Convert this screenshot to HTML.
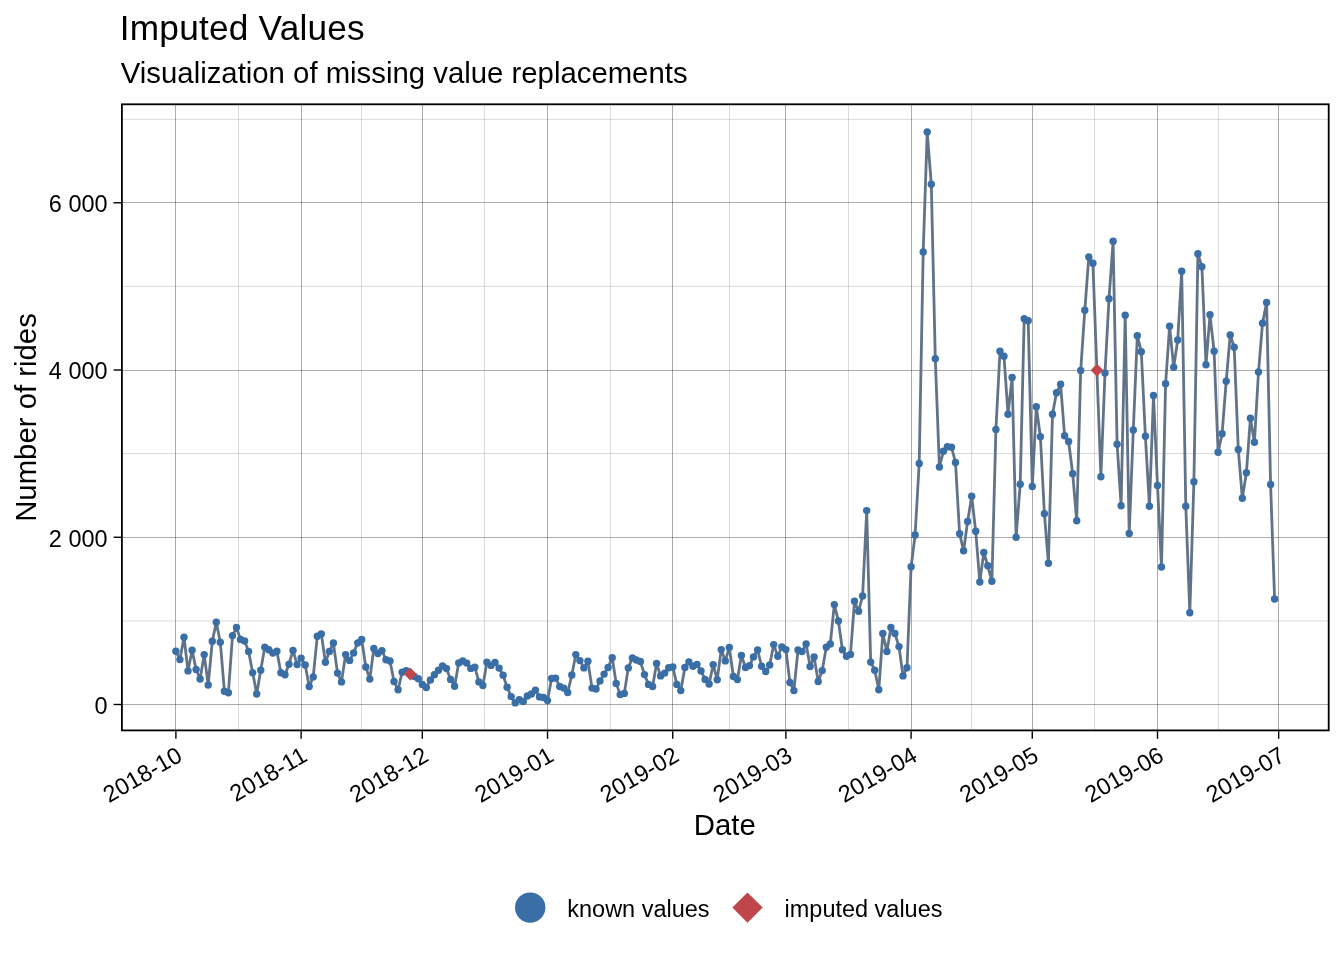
<!DOCTYPE html>
<html lang="en"><head><meta charset="utf-8"><title>Imputed Values</title>
<style>html,body{margin:0;padding:0;background:#fff}svg{display:block}text{font-family:"Liberation Sans", Arial, Helvetica, sans-serif;fill:#000}</style></head><body>
<svg width="1344" height="960" viewBox="0 0 1344 960">
<rect width="1344" height="960" fill="#fff"/>
<style>.mi{stroke:#000;stroke-opacity:.14;stroke-width:1}.ma{stroke:#000;stroke-opacity:.33;stroke-width:1}</style>
<g><line x1="121.9" x2="1328.8" y1="621.00" y2="621.00" class="mi"/><line x1="121.9" x2="1328.8" y1="453.50" y2="453.50" class="mi"/><line x1="121.9" x2="1328.8" y1="286.40" y2="286.40" class="mi"/><line x1="121.9" x2="1328.8" y1="119.40" y2="119.40" class="mi"/><line x1="238.50" x2="238.50" y1="104.3" y2="730.4" class="mi"/><line x1="361.50" x2="361.50" y1="104.3" y2="730.4" class="mi"/><line x1="484.50" x2="484.50" y1="104.3" y2="730.4" class="mi"/><line x1="610.50" x2="610.50" y1="104.3" y2="730.4" class="mi"/><line x1="729.50" x2="729.50" y1="104.3" y2="730.4" class="mi"/><line x1="848.50" x2="848.50" y1="104.3" y2="730.4" class="mi"/><line x1="971.50" x2="971.50" y1="104.3" y2="730.4" class="mi"/><line x1="1094.50" x2="1094.50" y1="104.3" y2="730.4" class="mi"/><line x1="1218.50" x2="1218.50" y1="104.3" y2="730.4" class="mi"/><line x1="121.9" x2="1328.8" y1="704.50" y2="704.50" class="ma"/><line x1="121.9" x2="1328.8" y1="537.50" y2="537.50" class="ma"/><line x1="121.9" x2="1328.8" y1="370.50" y2="370.50" class="ma"/><line x1="121.9" x2="1328.8" y1="202.50" y2="202.50" class="ma"/><line x1="175.50" x2="175.50" y1="104.3" y2="730.4" class="ma"/><line x1="301.50" x2="301.50" y1="104.3" y2="730.4" class="ma"/><line x1="422.50" x2="422.50" y1="104.3" y2="730.4" class="ma"/><line x1="547.50" x2="547.50" y1="104.3" y2="730.4" class="ma"/><line x1="672.50" x2="672.50" y1="104.3" y2="730.4" class="ma"/><line x1="785.50" x2="785.50" y1="104.3" y2="730.4" class="ma"/><line x1="911.50" x2="911.50" y1="104.3" y2="730.4" class="ma"/><line x1="1032.50" x2="1032.50" y1="104.3" y2="730.4" class="ma"/><line x1="1157.50" x2="1157.50" y1="104.3" y2="730.4" class="ma"/><line x1="1278.50" x2="1278.50" y1="104.3" y2="730.4" class="ma"/></g>
<polyline points="175.9,651.2 179.9,659.6 184.0,637.2 188.0,670.9 192.1,650.2 196.1,669.5 200.1,679.0 204.2,654.6 208.2,685.0 212.3,641.2 216.3,622.2 220.3,642.2 224.4,691.2 228.4,692.8 232.5,635.6 236.5,627.5 240.5,639.4 244.6,641.0 248.6,651.5 252.7,672.8 256.7,694.0 260.7,670.2 264.8,647.2 268.8,649.8 272.8,653.1 276.9,651.2 280.9,672.8 285.0,674.8 289.0,664.2 293.0,650.4 297.1,664.6 301.1,658.1 305.2,665.0 309.2,686.5 313.2,676.9 317.3,636.2 321.3,633.9 325.4,662.2 329.4,651.4 333.4,643.0 337.5,673.1 341.5,681.9 345.6,654.6 349.6,660.4 353.6,652.9 357.7,642.9 361.7,639.5 365.8,667.0 369.8,679.1 373.8,648.5 377.9,653.5 381.9,650.6 386.0,659.8 390.0,661.0 394.0,681.5 398.1,689.8 402.1,672.2 406.2,670.6 410.2,674.0 414.2,676.5 418.3,678.8 422.3,684.4 426.3,687.5 430.4,680.0 434.4,674.8 438.5,670.2 442.5,666.0 446.5,668.5 450.6,679.4 454.6,686.2 458.7,662.9 462.7,661.0 466.7,663.1 470.8,668.4 474.8,667.2 478.9,681.9 482.9,685.5 486.9,662.2 491.0,665.4 495.0,662.5 499.1,668.1 503.1,675.2 507.1,687.2 511.2,696.6 515.2,702.9 519.3,699.8 523.3,701.6 527.3,696.0 531.4,694.0 535.4,690.2 539.5,696.9 543.5,697.5 547.5,700.6 551.6,678.5 555.6,678.1 559.7,686.5 563.7,688.1 567.7,692.5 571.8,675.0 575.8,654.6 579.9,660.6 583.9,667.9 587.9,661.2 592.0,688.1 596.0,689.0 600.0,680.9 604.1,674.1 608.1,667.5 612.2,657.8 616.2,683.4 620.2,694.6 624.3,693.4 628.3,667.9 632.4,657.9 636.4,660.0 640.4,661.5 644.5,674.6 648.5,684.4 652.6,686.5 656.6,663.5 660.6,675.9 664.7,673.1 668.7,667.8 672.8,666.9 676.8,684.4 680.8,690.6 684.9,667.5 688.9,661.9 693.0,666.2 697.0,664.4 701.0,670.9 705.1,679.4 709.1,684.0 713.2,664.6 717.2,679.8 721.2,649.6 725.3,660.9 729.3,647.5 733.4,676.5 737.4,679.6 741.4,655.4 745.5,667.5 749.5,665.6 753.5,656.9 757.6,650.0 761.6,666.2 765.7,671.5 769.7,665.0 773.7,644.6 777.8,656.2 781.8,646.9 785.9,649.6 789.9,682.5 793.9,690.6 798.0,650.0 802.0,651.6 806.1,644.0 810.1,666.5 814.1,656.9 818.2,681.5 822.2,670.6 826.3,647.2 830.3,644.0 834.3,604.6 838.4,621.0 842.4,649.8 846.5,656.2 850.5,654.4 854.5,601.2 858.6,611.2 862.6,596.0 866.7,510.6 870.7,662.1 874.7,670.2 878.8,689.8 882.8,633.5 886.9,651.5 890.9,627.5 894.9,633.5 899.0,646.6 903.0,675.9 907.0,667.8 911.1,566.7 915.1,535.0 919.2,463.5 923.2,252.0 927.2,132.0 931.3,184.2 935.3,358.7 939.4,467.0 943.4,451.3 947.4,446.7 951.5,447.2 955.5,462.5 959.6,533.7 963.6,550.8 967.6,521.5 971.7,496.2 975.7,531.3 979.8,582.0 983.8,552.5 987.8,565.8 991.9,581.3 995.9,429.5 1000.0,351.3 1004.0,356.2 1008.0,414.2 1012.1,377.5 1016.1,537.2 1020.2,484.3 1024.2,318.7 1028.2,320.8 1032.3,486.5 1036.3,406.7 1040.4,436.7 1044.4,513.7 1048.4,563.2 1052.5,414.2 1056.5,392.8 1060.6,384.2 1064.6,435.8 1068.6,441.5 1072.7,473.8 1076.7,520.8 1080.7,370.5 1084.8,310.3 1088.8,257.0 1092.9,263.3 1096.9,370.2 1100.9,476.8 1105.0,373.0 1109.0,298.7 1113.1,241.3 1117.1,444.2 1121.1,505.8 1125.2,315.2 1129.2,533.5 1133.3,430.0 1137.3,335.8 1141.3,351.7 1145.4,436.2 1149.4,506.2 1153.5,395.5 1157.5,485.5 1161.5,567.0 1165.6,383.8 1169.6,326.3 1173.7,367.3 1177.7,340.0 1181.7,271.2 1185.8,506.3 1189.8,612.8 1193.9,481.8 1197.9,253.8 1201.9,266.7 1206.0,364.8 1210.0,314.8 1214.1,351.2 1218.1,452.2 1222.1,433.7 1226.2,381.3 1230.2,335.0 1234.2,347.2 1238.3,449.5 1242.3,498.3 1246.4,472.7 1250.4,418.3 1254.4,442.3 1258.5,372.0 1262.5,323.2 1266.6,302.5 1270.6,484.5 1274.6,599.0" fill="none" stroke="#617388" stroke-width="2.8" stroke-linejoin="round" stroke-linecap="butt"/>
<g fill="#396EA6"><circle cx="175.9" cy="651.2" r="3.7"/><circle cx="179.9" cy="659.6" r="3.7"/><circle cx="184.0" cy="637.2" r="3.7"/><circle cx="188.0" cy="670.9" r="3.7"/><circle cx="192.1" cy="650.2" r="3.7"/><circle cx="196.1" cy="669.5" r="3.7"/><circle cx="200.1" cy="679.0" r="3.7"/><circle cx="204.2" cy="654.6" r="3.7"/><circle cx="208.2" cy="685.0" r="3.7"/><circle cx="212.3" cy="641.2" r="3.7"/><circle cx="216.3" cy="622.2" r="3.7"/><circle cx="220.3" cy="642.2" r="3.7"/><circle cx="224.4" cy="691.2" r="3.7"/><circle cx="228.4" cy="692.8" r="3.7"/><circle cx="232.5" cy="635.6" r="3.7"/><circle cx="236.5" cy="627.5" r="3.7"/><circle cx="240.5" cy="639.4" r="3.7"/><circle cx="244.6" cy="641.0" r="3.7"/><circle cx="248.6" cy="651.5" r="3.7"/><circle cx="252.7" cy="672.8" r="3.7"/><circle cx="256.7" cy="694.0" r="3.7"/><circle cx="260.7" cy="670.2" r="3.7"/><circle cx="264.8" cy="647.2" r="3.7"/><circle cx="268.8" cy="649.8" r="3.7"/><circle cx="272.8" cy="653.1" r="3.7"/><circle cx="276.9" cy="651.2" r="3.7"/><circle cx="280.9" cy="672.8" r="3.7"/><circle cx="285.0" cy="674.8" r="3.7"/><circle cx="289.0" cy="664.2" r="3.7"/><circle cx="293.0" cy="650.4" r="3.7"/><circle cx="297.1" cy="664.6" r="3.7"/><circle cx="301.1" cy="658.1" r="3.7"/><circle cx="305.2" cy="665.0" r="3.7"/><circle cx="309.2" cy="686.5" r="3.7"/><circle cx="313.2" cy="676.9" r="3.7"/><circle cx="317.3" cy="636.2" r="3.7"/><circle cx="321.3" cy="633.9" r="3.7"/><circle cx="325.4" cy="662.2" r="3.7"/><circle cx="329.4" cy="651.4" r="3.7"/><circle cx="333.4" cy="643.0" r="3.7"/><circle cx="337.5" cy="673.1" r="3.7"/><circle cx="341.5" cy="681.9" r="3.7"/><circle cx="345.6" cy="654.6" r="3.7"/><circle cx="349.6" cy="660.4" r="3.7"/><circle cx="353.6" cy="652.9" r="3.7"/><circle cx="357.7" cy="642.9" r="3.7"/><circle cx="361.7" cy="639.5" r="3.7"/><circle cx="365.8" cy="667.0" r="3.7"/><circle cx="369.8" cy="679.1" r="3.7"/><circle cx="373.8" cy="648.5" r="3.7"/><circle cx="377.9" cy="653.5" r="3.7"/><circle cx="381.9" cy="650.6" r="3.7"/><circle cx="386.0" cy="659.8" r="3.7"/><circle cx="390.0" cy="661.0" r="3.7"/><circle cx="394.0" cy="681.5" r="3.7"/><circle cx="398.1" cy="689.8" r="3.7"/><circle cx="402.1" cy="672.2" r="3.7"/><circle cx="406.2" cy="670.6" r="3.7"/><circle cx="414.2" cy="676.5" r="3.7"/><circle cx="418.3" cy="678.8" r="3.7"/><circle cx="422.3" cy="684.4" r="3.7"/><circle cx="426.3" cy="687.5" r="3.7"/><circle cx="430.4" cy="680.0" r="3.7"/><circle cx="434.4" cy="674.8" r="3.7"/><circle cx="438.5" cy="670.2" r="3.7"/><circle cx="442.5" cy="666.0" r="3.7"/><circle cx="446.5" cy="668.5" r="3.7"/><circle cx="450.6" cy="679.4" r="3.7"/><circle cx="454.6" cy="686.2" r="3.7"/><circle cx="458.7" cy="662.9" r="3.7"/><circle cx="462.7" cy="661.0" r="3.7"/><circle cx="466.7" cy="663.1" r="3.7"/><circle cx="470.8" cy="668.4" r="3.7"/><circle cx="474.8" cy="667.2" r="3.7"/><circle cx="478.9" cy="681.9" r="3.7"/><circle cx="482.9" cy="685.5" r="3.7"/><circle cx="486.9" cy="662.2" r="3.7"/><circle cx="491.0" cy="665.4" r="3.7"/><circle cx="495.0" cy="662.5" r="3.7"/><circle cx="499.1" cy="668.1" r="3.7"/><circle cx="503.1" cy="675.2" r="3.7"/><circle cx="507.1" cy="687.2" r="3.7"/><circle cx="511.2" cy="696.6" r="3.7"/><circle cx="515.2" cy="702.9" r="3.7"/><circle cx="519.3" cy="699.8" r="3.7"/><circle cx="523.3" cy="701.6" r="3.7"/><circle cx="527.3" cy="696.0" r="3.7"/><circle cx="531.4" cy="694.0" r="3.7"/><circle cx="535.4" cy="690.2" r="3.7"/><circle cx="539.5" cy="696.9" r="3.7"/><circle cx="543.5" cy="697.5" r="3.7"/><circle cx="547.5" cy="700.6" r="3.7"/><circle cx="551.6" cy="678.5" r="3.7"/><circle cx="555.6" cy="678.1" r="3.7"/><circle cx="559.7" cy="686.5" r="3.7"/><circle cx="563.7" cy="688.1" r="3.7"/><circle cx="567.7" cy="692.5" r="3.7"/><circle cx="571.8" cy="675.0" r="3.7"/><circle cx="575.8" cy="654.6" r="3.7"/><circle cx="579.9" cy="660.6" r="3.7"/><circle cx="583.9" cy="667.9" r="3.7"/><circle cx="587.9" cy="661.2" r="3.7"/><circle cx="592.0" cy="688.1" r="3.7"/><circle cx="596.0" cy="689.0" r="3.7"/><circle cx="600.0" cy="680.9" r="3.7"/><circle cx="604.1" cy="674.1" r="3.7"/><circle cx="608.1" cy="667.5" r="3.7"/><circle cx="612.2" cy="657.8" r="3.7"/><circle cx="616.2" cy="683.4" r="3.7"/><circle cx="620.2" cy="694.6" r="3.7"/><circle cx="624.3" cy="693.4" r="3.7"/><circle cx="628.3" cy="667.9" r="3.7"/><circle cx="632.4" cy="657.9" r="3.7"/><circle cx="636.4" cy="660.0" r="3.7"/><circle cx="640.4" cy="661.5" r="3.7"/><circle cx="644.5" cy="674.6" r="3.7"/><circle cx="648.5" cy="684.4" r="3.7"/><circle cx="652.6" cy="686.5" r="3.7"/><circle cx="656.6" cy="663.5" r="3.7"/><circle cx="660.6" cy="675.9" r="3.7"/><circle cx="664.7" cy="673.1" r="3.7"/><circle cx="668.7" cy="667.8" r="3.7"/><circle cx="672.8" cy="666.9" r="3.7"/><circle cx="676.8" cy="684.4" r="3.7"/><circle cx="680.8" cy="690.6" r="3.7"/><circle cx="684.9" cy="667.5" r="3.7"/><circle cx="688.9" cy="661.9" r="3.7"/><circle cx="693.0" cy="666.2" r="3.7"/><circle cx="697.0" cy="664.4" r="3.7"/><circle cx="701.0" cy="670.9" r="3.7"/><circle cx="705.1" cy="679.4" r="3.7"/><circle cx="709.1" cy="684.0" r="3.7"/><circle cx="713.2" cy="664.6" r="3.7"/><circle cx="717.2" cy="679.8" r="3.7"/><circle cx="721.2" cy="649.6" r="3.7"/><circle cx="725.3" cy="660.9" r="3.7"/><circle cx="729.3" cy="647.5" r="3.7"/><circle cx="733.4" cy="676.5" r="3.7"/><circle cx="737.4" cy="679.6" r="3.7"/><circle cx="741.4" cy="655.4" r="3.7"/><circle cx="745.5" cy="667.5" r="3.7"/><circle cx="749.5" cy="665.6" r="3.7"/><circle cx="753.5" cy="656.9" r="3.7"/><circle cx="757.6" cy="650.0" r="3.7"/><circle cx="761.6" cy="666.2" r="3.7"/><circle cx="765.7" cy="671.5" r="3.7"/><circle cx="769.7" cy="665.0" r="3.7"/><circle cx="773.7" cy="644.6" r="3.7"/><circle cx="777.8" cy="656.2" r="3.7"/><circle cx="781.8" cy="646.9" r="3.7"/><circle cx="785.9" cy="649.6" r="3.7"/><circle cx="789.9" cy="682.5" r="3.7"/><circle cx="793.9" cy="690.6" r="3.7"/><circle cx="798.0" cy="650.0" r="3.7"/><circle cx="802.0" cy="651.6" r="3.7"/><circle cx="806.1" cy="644.0" r="3.7"/><circle cx="810.1" cy="666.5" r="3.7"/><circle cx="814.1" cy="656.9" r="3.7"/><circle cx="818.2" cy="681.5" r="3.7"/><circle cx="822.2" cy="670.6" r="3.7"/><circle cx="826.3" cy="647.2" r="3.7"/><circle cx="830.3" cy="644.0" r="3.7"/><circle cx="834.3" cy="604.6" r="3.7"/><circle cx="838.4" cy="621.0" r="3.7"/><circle cx="842.4" cy="649.8" r="3.7"/><circle cx="846.5" cy="656.2" r="3.7"/><circle cx="850.5" cy="654.4" r="3.7"/><circle cx="854.5" cy="601.2" r="3.7"/><circle cx="858.6" cy="611.2" r="3.7"/><circle cx="862.6" cy="596.0" r="3.7"/><circle cx="866.7" cy="510.6" r="3.7"/><circle cx="870.7" cy="662.1" r="3.7"/><circle cx="874.7" cy="670.2" r="3.7"/><circle cx="878.8" cy="689.8" r="3.7"/><circle cx="882.8" cy="633.5" r="3.7"/><circle cx="886.9" cy="651.5" r="3.7"/><circle cx="890.9" cy="627.5" r="3.7"/><circle cx="894.9" cy="633.5" r="3.7"/><circle cx="899.0" cy="646.6" r="3.7"/><circle cx="903.0" cy="675.9" r="3.7"/><circle cx="907.0" cy="667.8" r="3.7"/><circle cx="911.1" cy="566.7" r="3.7"/><circle cx="915.1" cy="535.0" r="3.7"/><circle cx="919.2" cy="463.5" r="3.7"/><circle cx="923.2" cy="252.0" r="3.7"/><circle cx="927.2" cy="132.0" r="3.7"/><circle cx="931.3" cy="184.2" r="3.7"/><circle cx="935.3" cy="358.7" r="3.7"/><circle cx="939.4" cy="467.0" r="3.7"/><circle cx="943.4" cy="451.3" r="3.7"/><circle cx="947.4" cy="446.7" r="3.7"/><circle cx="951.5" cy="447.2" r="3.7"/><circle cx="955.5" cy="462.5" r="3.7"/><circle cx="959.6" cy="533.7" r="3.7"/><circle cx="963.6" cy="550.8" r="3.7"/><circle cx="967.6" cy="521.5" r="3.7"/><circle cx="971.7" cy="496.2" r="3.7"/><circle cx="975.7" cy="531.3" r="3.7"/><circle cx="979.8" cy="582.0" r="3.7"/><circle cx="983.8" cy="552.5" r="3.7"/><circle cx="987.8" cy="565.8" r="3.7"/><circle cx="991.9" cy="581.3" r="3.7"/><circle cx="995.9" cy="429.5" r="3.7"/><circle cx="1000.0" cy="351.3" r="3.7"/><circle cx="1004.0" cy="356.2" r="3.7"/><circle cx="1008.0" cy="414.2" r="3.7"/><circle cx="1012.1" cy="377.5" r="3.7"/><circle cx="1016.1" cy="537.2" r="3.7"/><circle cx="1020.2" cy="484.3" r="3.7"/><circle cx="1024.2" cy="318.7" r="3.7"/><circle cx="1028.2" cy="320.8" r="3.7"/><circle cx="1032.3" cy="486.5" r="3.7"/><circle cx="1036.3" cy="406.7" r="3.7"/><circle cx="1040.4" cy="436.7" r="3.7"/><circle cx="1044.4" cy="513.7" r="3.7"/><circle cx="1048.4" cy="563.2" r="3.7"/><circle cx="1052.5" cy="414.2" r="3.7"/><circle cx="1056.5" cy="392.8" r="3.7"/><circle cx="1060.6" cy="384.2" r="3.7"/><circle cx="1064.6" cy="435.8" r="3.7"/><circle cx="1068.6" cy="441.5" r="3.7"/><circle cx="1072.7" cy="473.8" r="3.7"/><circle cx="1076.7" cy="520.8" r="3.7"/><circle cx="1080.7" cy="370.5" r="3.7"/><circle cx="1084.8" cy="310.3" r="3.7"/><circle cx="1088.8" cy="257.0" r="3.7"/><circle cx="1092.9" cy="263.3" r="3.7"/><circle cx="1100.9" cy="476.8" r="3.7"/><circle cx="1105.0" cy="373.0" r="3.7"/><circle cx="1109.0" cy="298.7" r="3.7"/><circle cx="1113.1" cy="241.3" r="3.7"/><circle cx="1117.1" cy="444.2" r="3.7"/><circle cx="1121.1" cy="505.8" r="3.7"/><circle cx="1125.2" cy="315.2" r="3.7"/><circle cx="1129.2" cy="533.5" r="3.7"/><circle cx="1133.3" cy="430.0" r="3.7"/><circle cx="1137.3" cy="335.8" r="3.7"/><circle cx="1141.3" cy="351.7" r="3.7"/><circle cx="1145.4" cy="436.2" r="3.7"/><circle cx="1149.4" cy="506.2" r="3.7"/><circle cx="1153.5" cy="395.5" r="3.7"/><circle cx="1157.5" cy="485.5" r="3.7"/><circle cx="1161.5" cy="567.0" r="3.7"/><circle cx="1165.6" cy="383.8" r="3.7"/><circle cx="1169.6" cy="326.3" r="3.7"/><circle cx="1173.7" cy="367.3" r="3.7"/><circle cx="1177.7" cy="340.0" r="3.7"/><circle cx="1181.7" cy="271.2" r="3.7"/><circle cx="1185.8" cy="506.3" r="3.7"/><circle cx="1189.8" cy="612.8" r="3.7"/><circle cx="1193.9" cy="481.8" r="3.7"/><circle cx="1197.9" cy="253.8" r="3.7"/><circle cx="1201.9" cy="266.7" r="3.7"/><circle cx="1206.0" cy="364.8" r="3.7"/><circle cx="1210.0" cy="314.8" r="3.7"/><circle cx="1214.1" cy="351.2" r="3.7"/><circle cx="1218.1" cy="452.2" r="3.7"/><circle cx="1222.1" cy="433.7" r="3.7"/><circle cx="1226.2" cy="381.3" r="3.7"/><circle cx="1230.2" cy="335.0" r="3.7"/><circle cx="1234.2" cy="347.2" r="3.7"/><circle cx="1238.3" cy="449.5" r="3.7"/><circle cx="1242.3" cy="498.3" r="3.7"/><circle cx="1246.4" cy="472.7" r="3.7"/><circle cx="1250.4" cy="418.3" r="3.7"/><circle cx="1254.4" cy="442.3" r="3.7"/><circle cx="1258.5" cy="372.0" r="3.7"/><circle cx="1262.5" cy="323.2" r="3.7"/><circle cx="1266.6" cy="302.5" r="3.7"/><circle cx="1270.6" cy="484.5" r="3.7"/><circle cx="1274.6" cy="599.0" r="3.7"/></g>
<polygon points="403.8,674.0 410.2,667.6 416.6,674.0 410.2,680.4" fill="#C1464B"/>
<polygon points="1090.5,370.2 1096.9,363.8 1103.3,370.2 1096.9,376.6" fill="#C1464B"/>
<rect x="121.9" y="104.3" width="1206.8" height="626.1" fill="none" stroke="#000" stroke-width="1.8"/>
<g stroke="#000" stroke-width="1.4"><line x1="175.90" x2="175.90" y1="731.2" y2="738.8"/><line x1="301.12" x2="301.12" y1="731.2" y2="738.8"/><line x1="422.31" x2="422.31" y1="731.2" y2="738.8"/><line x1="547.53" x2="547.53" y1="731.2" y2="738.8"/><line x1="672.76" x2="672.76" y1="731.2" y2="738.8"/><line x1="785.86" x2="785.86" y1="731.2" y2="738.8"/><line x1="911.09" x2="911.09" y1="731.2" y2="738.8"/><line x1="1032.27" x2="1032.27" y1="731.2" y2="738.8"/><line x1="1157.50" x2="1157.50" y1="731.2" y2="738.8"/><line x1="1278.68" x2="1278.68" y1="731.2" y2="738.8"/><line x1="113.6" x2="121.1" y1="704.50" y2="704.50"/><line x1="113.6" x2="121.1" y1="537.26" y2="537.26"/><line x1="113.6" x2="121.1" y1="370.02" y2="370.02"/><line x1="113.6" x2="121.1" y1="202.78" y2="202.78"/></g>
<text x="107.6" y="713.9" font-size="23.47" text-anchor="end">0</text>
<text x="107.6" y="546.7" font-size="23.47" text-anchor="end">2 000</text>
<text x="107.6" y="379.4" font-size="23.47" text-anchor="end">4 000</text>
<text x="107.6" y="212.2" font-size="23.47" text-anchor="end">6 000</text>
<text transform="translate(175.3,745.5) rotate(-30)" font-size="23.47" text-anchor="end" y="16.8">2018-10</text>
<text transform="translate(300.5,745.5) rotate(-30)" font-size="23.47" text-anchor="end" y="16.8">2018-11</text>
<text transform="translate(421.7,745.5) rotate(-30)" font-size="23.47" text-anchor="end" y="16.8">2018-12</text>
<text transform="translate(546.9,745.5) rotate(-30)" font-size="23.47" text-anchor="end" y="16.8">2019-01</text>
<text transform="translate(672.2,745.5) rotate(-30)" font-size="23.47" text-anchor="end" y="16.8">2019-02</text>
<text transform="translate(785.3,745.5) rotate(-30)" font-size="23.47" text-anchor="end" y="16.8">2019-03</text>
<text transform="translate(910.5,745.5) rotate(-30)" font-size="23.47" text-anchor="end" y="16.8">2019-04</text>
<text transform="translate(1031.7,745.5) rotate(-30)" font-size="23.47" text-anchor="end" y="16.8">2019-05</text>
<text transform="translate(1156.9,745.5) rotate(-30)" font-size="23.47" text-anchor="end" y="16.8">2019-06</text>
<text transform="translate(1278.1,745.5) rotate(-30)" font-size="23.47" text-anchor="end" y="16.8">2019-07</text>
<text x="119.8" y="39.7" font-size="35.2" textLength="244.9" lengthAdjust="spacing">Imputed Values</text>
<text x="120.8" y="82.7" font-size="29.33">Visualization of missing value replacements</text>
<text x="724.8" y="835" font-size="29.33" text-anchor="middle">Date</text>
<text transform="translate(35.9,417.5) rotate(-90)" font-size="29.33" text-anchor="middle">Number of rides</text>
<circle cx="530.2" cy="907.6" r="15.2" fill="#396EA6"/>
<text x="567.3" y="916.5" font-size="23.47">known values</text>
<polygon points="732.3,907.6 747.5,892.4 762.7,907.6 747.5,922.8" fill="#C1464B"/>
<text x="784.6" y="916.5" font-size="23.47">imputed values</text>
</svg></body></html>
